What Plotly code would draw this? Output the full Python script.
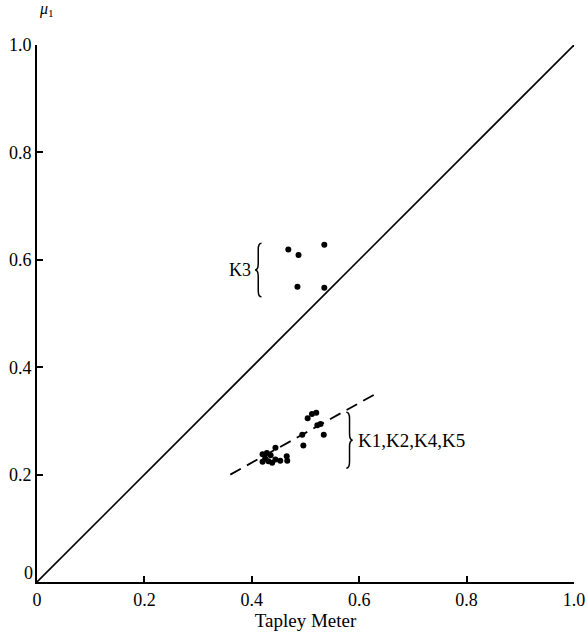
import plotly.graph_objects as go

# K3 group
k3_x = [0.468, 0.487, 0.535, 0.485, 0.535]
k3_y = [0.619, 0.609, 0.628, 0.550, 0.548]

# K1, K2, K4, K5 group
k_x = [0.504, 0.512, 0.520, 0.522, 0.528, 0.534, 0.494, 0.496, 0.444,
       0.420, 0.425, 0.431, 0.420, 0.435, 0.444, 0.453, 0.466, 0.465, 0.428, 0.438]
k_y = [0.305, 0.313, 0.315, 0.292, 0.294, 0.274, 0.274, 0.254, 0.250,
       0.238, 0.230, 0.225, 0.224, 0.236, 0.228, 0.226, 0.226, 0.234, 0.240, 0.222]

diag_x = [0, 1]
diag_y = [0, 1]
fit_x = [0.36, 0.63]
fit_y = [0.20, 0.35]

xticks = [0, 0.2, 0.4, 0.6, 0.8, 1.0]
xticklabels = ["0", "0.2", "0.4", "0.6", "0.8", "1.0"]
yticks = [0.2, 0.4, 0.6, 0.8, 1.0]
yticklabels = ["0.2", "0.4", "0.6", "0.8", "1.0"]

FONT = "Liberation Serif"


def brace_path(xb, ybot, ytop, w, d, point_left=True):
    """Curly brace path in data coordinates; tip points left or right."""
    ym = (ybot + ytop) / 2
    s = 1 if point_left else -1
    xe = xb + s * w / 2   # ends
    xt = xb - s * w / 2   # tip
    return (f"M {xe},{ytop} Q {xb},{ytop} {xb},{ytop - d} "
            f"L {xb},{ym + d} Q {xb},{ym} {xt},{ym} "
            f"Q {xb},{ym} {xb},{ym - d} "
            f"L {xb},{ybot + d} Q {xb},{ybot} {xe},{ybot}")


fig = go.Figure()
fig.add_trace(go.Scatter(x=diag_x, y=diag_y, mode="lines",
                         line=dict(color="black", width=1.6), showlegend=False, cliponaxis=False))
fig.add_trace(go.Scatter(x=fit_x, y=fit_y, mode="lines",
                         line=dict(color="black", width=1.8, dash="12px,7px"), showlegend=False))
fig.add_trace(go.Scatter(x=k3_x, y=k3_y, mode="markers",
                         marker=dict(color="black", size=6), showlegend=False))
fig.add_trace(go.Scatter(x=k_x, y=k_y, mode="markers",
                         marker=dict(color="black", size=6), showlegend=False))

# braces sized from the groups' value ranges
b1_bot, b1_top = min(k3_y) - 0.017, max(k3_y) + 0.003
b2_bot, b2_top = min(k_y) - 0.01, max(k_y) + 0.001
shapes = [
    dict(type="path", xref="x", yref="y",
         path=brace_path(min(k3_x) - 0.056, b1_bot, b1_top, 0.012, 0.012, True),
         line=dict(color="black", width=1.5)),
    dict(type="path", xref="x", yref="y",
         path=brace_path(max(k_x) + 0.048, b2_bot, b2_top, 0.012, 0.012, False),
         line=dict(color="black", width=1.5)),
]

annotations = [
    dict(x=min(k3_x) - 0.066, y=(b1_bot + b1_top) / 2, text="K3", showarrow=False,
         xanchor="right", yanchor="middle",
         font=dict(family=FONT, size=18, color="black")),
    dict(x=max(k_x) + 0.06, y=(b2_bot + b2_top) / 2, text="K1,K2,K4,K5", showarrow=False,
         xanchor="left", yanchor="middle",
         font=dict(family=FONT, size=19, color="black")),
    dict(x=0, y=0, text="0", showarrow=False, xanchor="right", yanchor="middle", yshift=9, xshift=-2,
         font=dict(family=FONT, size=18, color="black")),
    dict(x=0, y=1.0, text="<i>μ</i><sub>1</sub>", showarrow=False, xanchor="center", yanchor="bottom",
         xref="paper", yref="paper", yshift=24, xshift=9,
         font=dict(family=FONT, size=16, color="black")),
]

fig.update_layout(
    width=587, height=632,
    margin=dict(l=37, r=13, t=45, b=50, autoexpand=False),
    paper_bgcolor="white", plot_bgcolor="white",
    font=dict(family=FONT, size=18, color="black"),
    annotations=annotations,
    shapes=shapes,
    xaxis=dict(range=[0, 1], tickvals=xticks, ticktext=xticklabels, automargin=False,
               showgrid=False, zeroline=False, showline=True, linecolor="black", linewidth=2,
               ticks="inside", ticklen=6, tickwidth=1.5, tickcolor="black",
               title=dict(text="Tapley Meter", font=dict(family=FONT, size=19), standoff=4),
               tickfont=dict(family=FONT, size=18)),
    yaxis=dict(range=[0, 1], tickvals=yticks, ticktext=yticklabels, automargin=False,
               showgrid=False, zeroline=False, showline=True, linecolor="black", linewidth=2,
               ticks="inside", ticklen=6, tickwidth=1.5, tickcolor="black",
               tickfont=dict(family=FONT, size=18), ticklabelstandoff=0),
)

fig.write_html("out.html")
